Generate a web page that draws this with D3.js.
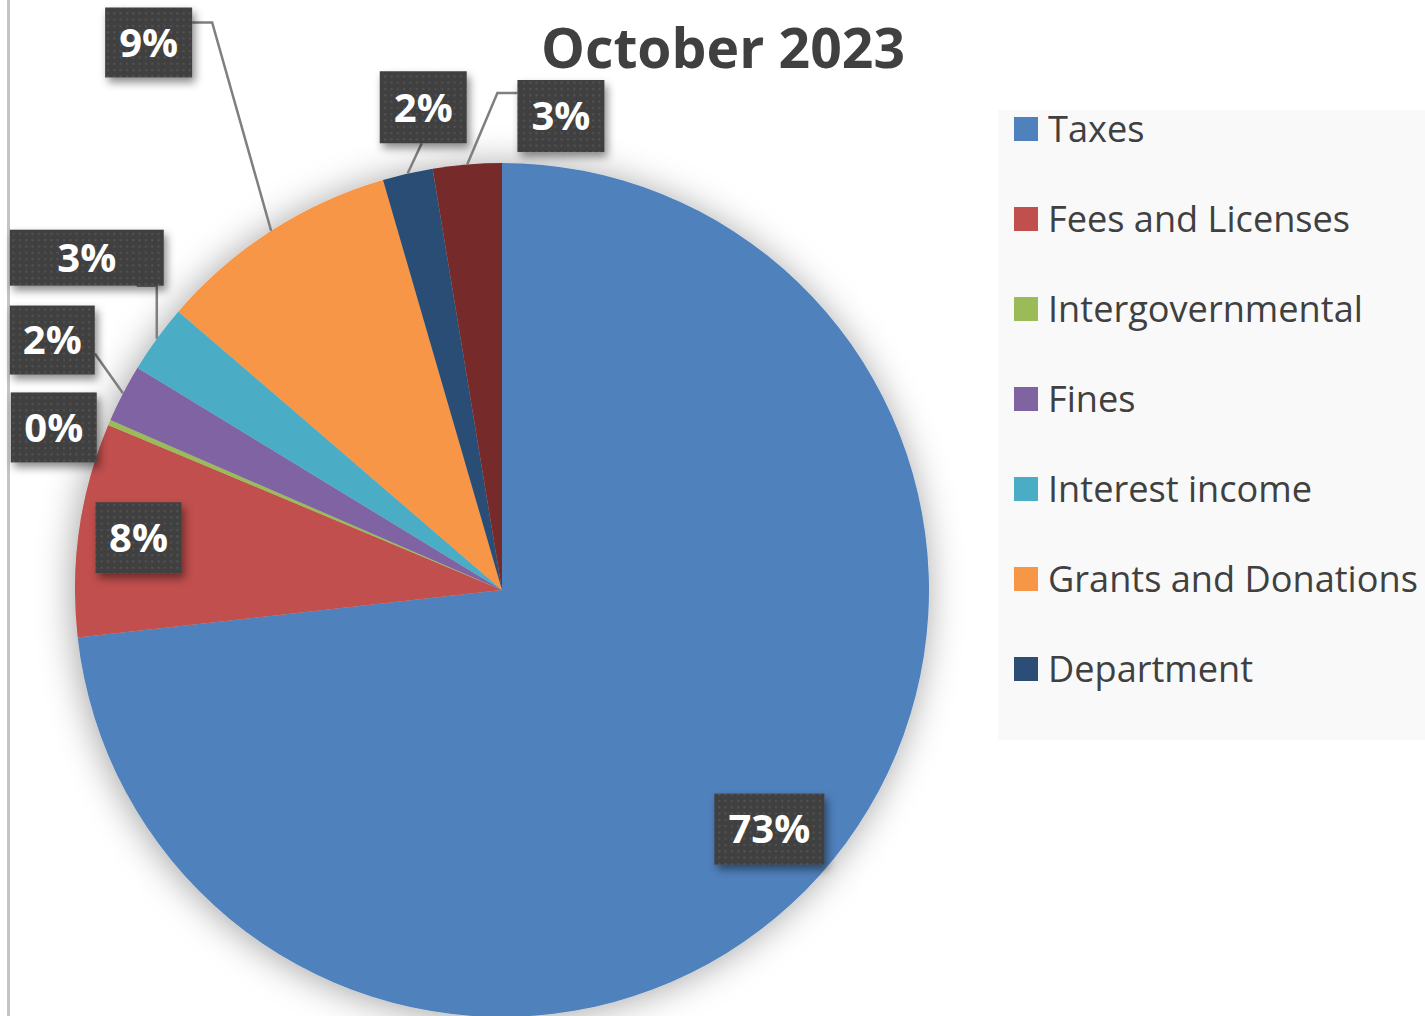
<!DOCTYPE html>
<html>
<head>
<meta charset="utf-8">
<script src="https://cdn.jsdelivr.net/npm/d3@7"></script>
<style>
  html, body { margin: 0; padding: 0; background: #ffffff; }
  svg { display: block; }
</style>
</head>
<body>
<script>
// ---- Data ----
const title = "October 2023";
const categories = ["Taxes", "Fees and Licenses", "Intergovernmental", "Fines",
                    "Interest income", "Grants and Donations", "Department", "Other"];
const shares = [73.3, 8.1, 0.2, 2.2, 2.6, 9.2, 1.9, 2.6];
const colors = ["#4f81bd", "#c0504d", "#9bbb59", "#8064a2",
                "#4bacc6", "#f79646", "#2c4d75", "#772c2a"];
const legendShown = 7; // the legend box only shows the first seven entries

// ---- Layout (positions/styles, not data) ----
const W = 1425, H = 1016;
const cx = 502, cy = 590, R = 427;
// label placement: inside -> radius fraction on bisector; outside -> offset of box centre from edge anchor
const labelLayout = [
  { inside: 0.84, w: 110, h: 71 },
  { inside: 0.86, w: 86, h: 71 },
  { off: [-55.5, 5], w: 86, h: 70, leader: [] },
  { off: [-70.7, -53.3], w: 85, h: 69, leader: [[42.5, 13.5]] },
  { off: [-70, -81], w: 154, h: 56, leader: [[50, 28], [70, 28]] },
  { off: [-122.5, -188.3], w: 87, h: 70, leader: [[43.5, -20], [63.5, -20]] },
  { off: [15.6, -66.3], w: 87, h: 72, leader: [[-1.5, 36]] },
  { off: [93.7, -48.4], w: 87, h: 72, leader: [[-43.5, -23], [-63.5, -23]] }
];

const svg = d3.select("body").append("svg").attr("width", W).attr("height", H);
const defs = svg.append("defs");

const pieShadow = defs.append("filter").attr("id", "pieShadow")
  .attr("x", "-20%").attr("y", "-20%").attr("width", "140%").attr("height", "140%");
pieShadow.append("feDropShadow").attr("dx", -2).attr("dy", 2)
  .attr("stdDeviation", 18).attr("flood-color", "#000").attr("flood-opacity", 0.36);

const boxShadow = defs.append("filter").attr("id", "boxShadow")
  .attr("x", "-30%").attr("y", "-30%").attr("width", "160%").attr("height", "170%");
boxShadow.append("feDropShadow").attr("dx", 3).attr("dy", 5)
  .attr("stdDeviation", 4).attr("flood-color", "#000").attr("flood-opacity", 0.45);

const dots = defs.append("pattern").attr("id", "dots").attr("patternUnits", "userSpaceOnUse")
  .attr("width", 6.3).attr("height", 6.3);
dots.append("rect").attr("width", 6.3).attr("height", 6.3).attr("fill", "#3f3f3f");
dots.append("rect").attr("x", 2).attr("y", 2).attr("width", 2).attr("height", 2).attr("fill", "#555555");

// left border line
svg.append("line").attr("x1", 8.5).attr("x2", 8.5).attr("y1", 0).attr("y2", H)
  .attr("stroke", "#c4c4c4").attr("stroke-width", 3);

// ---- Pie ----
const data = categories.map((c, i) => ({ name: c, v: shares[i], color: colors[i], i }));
const total = d3.sum(shares);
const pie = d3.pie().sort(null).value(d => d.v).startAngle(0).endAngle(2 * Math.PI);
const arcs = pie(data);
const arc = d3.arc().innerRadius(0).outerRadius(R);
const edgeArc = d3.arc().innerRadius(R).outerRadius(R);

const g = svg.append("g").attr("transform", `translate(${cx},${cy})`);
g.append("g").attr("filter", "url(#pieShadow)")
  .selectAll("path").data(arcs).join("path")
  .attr("d", arc).attr("fill", d => d.data.color);

// ---- Labels ----
const fmt = d3.format(".0%");
const lblFs = 40;
const lg = g.append("g");
arcs.forEach((a, i) => {
  const L = labelLayout[i];
  const mid = (a.startAngle + a.endAngle) / 2;
  let bx, by;
  const anchor = edgeArc.centroid(a);
  if (L.inside) {
    bx = Math.sin(mid) * R * L.inside;
    by = -Math.cos(mid) * R * L.inside;
  } else {
    bx = anchor[0] + L.off[0];
    by = anchor[1] + L.off[1];
    if (L.leader.length) {
      const pts = L.leader.map(p => [bx + p[0], by + p[1]]).concat([anchor]);
      lg.append("path").attr("d", d3.line()(pts)).attr("fill", "none")
        .attr("stroke", "#7f7f7f").attr("stroke-width", 2.5);
    }
  }
  lg.append("rect").attr("x", bx - L.w / 2).attr("y", by - L.h / 2)
    .attr("width", L.w).attr("height", L.h)
    .attr("fill", "url(#dots)").attr("filter", "url(#boxShadow)");
  lg.append("text").attr("x", bx).attr("y", by + lblFs * 0.357)
    .attr("text-anchor", "middle")
    .style("font-family", "'Open Sans', sans-serif").style("font-weight", 700)
    .style("font-size", lblFs + "px").attr("fill", "#ffffff")
    .text(fmt(a.data.v / total));
});

// ---- Title ----
const t = svg.append("text").attr("x", 723).attr("y", 68).attr("text-anchor", "middle")
  .style("font-family", "'Open Sans', sans-serif").style("font-weight", 700)
  .style("font-size", "58px").attr("fill", "#404040").text(title);
const tw = t.node().getComputedTextLength();
t.style("font-size", (58 * 364 / tw) + "px");

// ---- Legend ----
svg.append("rect").attr("x", 998).attr("y", 110).attr("width", W - 998).attr("height", 630)
  .attr("fill", "#f9f9f9");
const leg = svg.append("g");
const items = data.slice(0, legendShown);
const rows = leg.selectAll("g").data(items).join("g")
  .attr("transform", (d, i) => `translate(1014,${117 + i * 90})`);
rows.append("rect").attr("width", 24).attr("height", 24).attr("fill", d => d.color);
const legTexts = rows.append("text").attr("x", 34).attr("y", 25)
  .style("font-family", "'Open Sans', sans-serif").style("font-size", "36px")
  .attr("fill", "#404040").text(d => d.name);
let maxW = 0;
legTexts.each(function(d) { if (d.name === "Grants and Donations") maxW = this.getComputedTextLength(); });
if (maxW > 0) legTexts.style("font-size", (36 * 370 / maxW) + "px");
</script>
</body>
</html>
